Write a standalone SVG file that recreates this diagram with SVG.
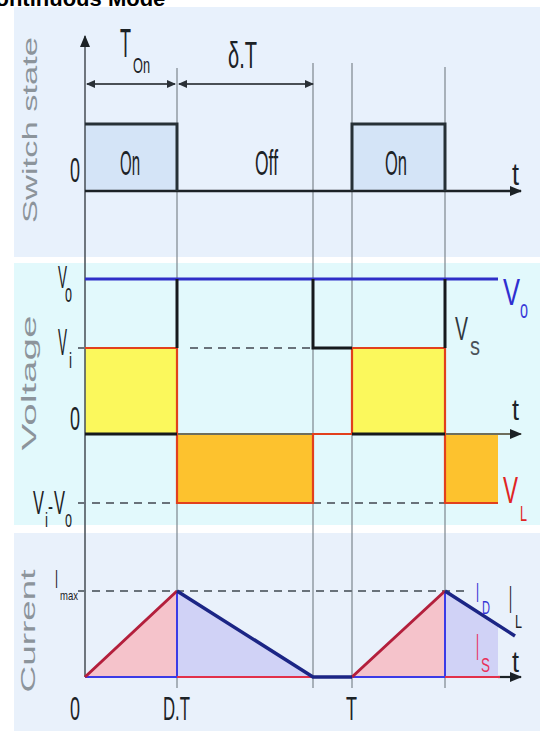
<svg xmlns="http://www.w3.org/2000/svg" width="540" height="731" viewBox="0 0 540 731">
<defs>
<style>
text{font-family:"Liberation Sans",Arial,sans-serif}
.k{fill:#1c2226}
.side{fill:#8c949b}
.g{stroke:#7d868e;stroke-width:1.2;fill:none}
.d{stroke:#69727a;stroke-width:2;stroke-dasharray:8 6;fill:none}
</style>
<marker id="ah" markerWidth="12" markerHeight="10" refX="11" refY="5" orient="auto" markerUnits="userSpaceOnUse"><path d="M0,0 L12,5 L0,10 z" fill="#1c2226"/></marker>
<marker id="dh" markerWidth="9" markerHeight="8" refX="8" refY="4" orient="auto-start-reverse" markerUnits="userSpaceOnUse"><path d="M0,0 L9,4 L0,8 z" fill="#2a3036"/></marker>
</defs>
<rect width="540" height="731" fill="#ffffff"/>
<text x="-51" y="6" font-family="Liberation Serif" font-weight="bold" font-size="22" fill="#000">Discontinuous Mode</text>

<g id="panels">
<rect x="14" y="7" width="526" height="250" fill="#e8f1fc"/>
<rect x="14" y="263" width="526" height="262" fill="#e2f9fc"/>
<rect x="14" y="533" width="526" height="198" fill="#e9f1fb"/>
</g>

<g id="fills">
<rect x="85" y="124" width="92" height="67" fill="#d4e4f7"/>
<rect x="352" y="124" width="93" height="67" fill="#d4e4f7"/>
<rect x="85" y="348" width="92" height="86" fill="#fbf85c"/>
<rect x="352" y="348" width="93" height="86" fill="#fbf85c"/>
<rect x="177" y="434" width="136" height="69" fill="#fdc22e"/>
<rect x="445" y="434" width="53" height="69" fill="#fdc22e"/>
<polygon points="85,677 177,591 177,677" fill="#f5c3cb"/>
<polygon points="177,591 313,677 177,677" fill="#d0d2f6"/>
<polygon points="352,677 445,591 445,677" fill="#f5c3cb"/>
<polygon points="445,591 498,624.5 498,677 445,677" fill="#d0d2f6"/>
</g>

<g id="connectors">
<path class="g" d="M177,68 V688 M313,63 V688 M352,63 V688 M445,67 V688"/>
<line x1="85" y1="677" x2="85" y2="36" stroke="#4f575e" stroke-width="1.6" marker-end="url(#ah)"/>
<line x1="87" y1="84" x2="175" y2="84" stroke="#4a5056" stroke-width="2" marker-start="url(#dh)" marker-end="url(#dh)"/>
<line x1="179" y1="84" x2="313" y2="84" stroke="#4a5056" stroke-width="2" marker-start="url(#dh)" marker-end="url(#dh)"/>
<path class="d" d="M78,348 H84 M190,348 H313 M78,503 H177 M313,503 H445 M78,591 H470"/>
</g>

<g id="switch-state">
<text transform="translate(37,130) rotate(-90) scale(1,0.6)" text-anchor="middle" font-size="35" textLength="186" lengthAdjust="spacingAndGlyphs" class="side">Switch state</text>
<line x1="85" y1="191" x2="521" y2="191" stroke="#1c2226" stroke-width="2.5" marker-end="url(#ah)"/>
<path d="M85,124 H177 V191 M352,191 V124 H445 V191" stroke="#263036" stroke-width="3" fill="none"/>
<text x="120" y="57" font-size="40" textLength="11" lengthAdjust="spacingAndGlyphs" class="k">T</text>
<text x="133" y="73" font-size="22" textLength="17" lengthAdjust="spacingAndGlyphs" class="k">On</text>
<text x="228" y="68" font-size="36" textLength="29" lengthAdjust="spacingAndGlyphs" class="k">δ.T</text>
<text x="70" y="182" font-size="35" textLength="10" lengthAdjust="spacingAndGlyphs" class="k">0</text>
<text x="120" y="175" font-size="35" textLength="20" lengthAdjust="spacingAndGlyphs" class="k">On</text>
<text x="255" y="175" font-size="35" textLength="23" lengthAdjust="spacingAndGlyphs" class="k">Off</text>
<text x="385" y="175" font-size="35" textLength="22" lengthAdjust="spacingAndGlyphs" class="k">On</text>
<text x="512" y="185" font-size="32" textLength="7" lengthAdjust="spacingAndGlyphs" class="k">t</text>
</g>

<g id="voltage">
<text transform="translate(36,383) rotate(-90) scale(1,0.6)" text-anchor="middle" font-size="35" textLength="135" lengthAdjust="spacingAndGlyphs" class="side">Voltage</text>
<line x1="85" y1="434" x2="521" y2="434" stroke="#6e6e5c" stroke-width="2" marker-end="url(#ah)"/>
<line x1="85" y1="279" x2="498" y2="279" stroke="#2f2fc8" stroke-width="3"/>
<path d="M85,348 H177 V503 H313 V434 H352 V348 H445 V503 H498" stroke="#e2401c" stroke-width="2.2" fill="none"/>
<path d="M85,434 H177 M177,348 V279 M313,279 V348 H352 M352,434 H445 M445,348 V279" stroke="#15191c" stroke-width="3" fill="none"/>
<text x="58" y="288" font-size="32" textLength="9" lengthAdjust="spacingAndGlyphs" class="k">V</text>
<text x="65" y="302" font-size="26" textLength="7" lengthAdjust="spacingAndGlyphs" class="k">o</text>
<text x="58" y="355" font-size="36" textLength="9" lengthAdjust="spacingAndGlyphs" class="k">V</text>
<text x="69" y="368" font-size="22" textLength="3" lengthAdjust="spacingAndGlyphs" class="k">i</text>
<text x="70" y="430" font-size="33" textLength="10" lengthAdjust="spacingAndGlyphs" class="k">0</text>
<text x="33" y="514" font-size="34" textLength="11" lengthAdjust="spacingAndGlyphs" class="k">V</text>
<text x="45" y="527" font-size="20" textLength="3" lengthAdjust="spacingAndGlyphs" class="k">i</text>
<text x="48" y="514" font-size="24" textLength="5" lengthAdjust="spacingAndGlyphs" class="k">-</text>
<text x="54" y="514" font-size="34" textLength="11" lengthAdjust="spacingAndGlyphs" class="k">V</text>
<text x="65" y="527" font-size="24" textLength="7" lengthAdjust="spacingAndGlyphs" class="k">o</text>
<text x="503" y="305" font-size="37" textLength="17" lengthAdjust="spacingAndGlyphs" fill="#2f2fd0">V</text>
<text x="520" y="318" font-size="26" textLength="8" lengthAdjust="spacingAndGlyphs" fill="#3a3ad8">o</text>
<text x="455" y="340" font-size="34" textLength="13" lengthAdjust="spacingAndGlyphs" fill="#30383e">V</text>
<text x="470" y="355" font-size="26" textLength="10" lengthAdjust="spacingAndGlyphs" fill="#4a5258">s</text>
<text x="512" y="420" font-size="30" textLength="7" lengthAdjust="spacingAndGlyphs" class="k">t</text>
<text x="503" y="503" font-size="36" textLength="15" lengthAdjust="spacingAndGlyphs" fill="#e02424">V</text>
<text x="520" y="521" font-size="22" textLength="7" lengthAdjust="spacingAndGlyphs" fill="#e02424">L</text>
</g>

<g id="current">
<text transform="translate(35,631) rotate(-90) scale(1,0.6)" text-anchor="middle" font-size="35" textLength="123" lengthAdjust="spacingAndGlyphs" class="side">Current</text>
<line x1="498" y1="677" x2="521" y2="677" stroke="#1c2226" stroke-width="2.2" marker-end="url(#ah)"/>
<path d="M85,677 H177 M352,677 H445 M177,591 V677 M445,591 V677" stroke="#3b3be6" stroke-width="2" fill="none"/>
<path d="M177,677 H313 M445,677 H500" stroke="#e2304a" stroke-width="2.2" fill="none"/>
<path d="M85,677 L177,591 M352,677 L445,591" stroke="#b31f3c" stroke-width="3" fill="none"/>
<path d="M177,591 L313,677 H352 M445,591 L515,636" stroke="#1b2585" stroke-width="3.5" fill="none"/>
<text x="55" y="588" font-size="25" textLength="3" lengthAdjust="spacingAndGlyphs" class="k">I</text>
<text x="60" y="600" font-size="13" textLength="18" lengthAdjust="spacingAndGlyphs" class="k">max</text>
<text x="476" y="602" font-size="27" textLength="3" lengthAdjust="spacingAndGlyphs" fill="#3434d4">I</text>
<text x="482" y="614" font-size="19" textLength="8" lengthAdjust="spacingAndGlyphs" fill="#3434d4">D</text>
<text x="509" y="613" font-size="38" textLength="3" lengthAdjust="spacingAndGlyphs" class="k">I</text>
<text x="515" y="628" font-size="19" textLength="7" lengthAdjust="spacingAndGlyphs" class="k">L</text>
<text x="476" y="660" font-size="37" textLength="3" lengthAdjust="spacingAndGlyphs" fill="#e8305a">I</text>
<text x="481" y="672" font-size="20" textLength="9" lengthAdjust="spacingAndGlyphs" fill="#e8305a">S</text>
<text x="512" y="672" font-size="30" textLength="7" lengthAdjust="spacingAndGlyphs" class="k">t</text>
<text x="70" y="720" font-size="33" textLength="10" lengthAdjust="spacingAndGlyphs" class="k">0</text>
<text x="163" y="720" font-size="33" textLength="27" lengthAdjust="spacingAndGlyphs" class="k">D.T</text>
<text x="346" y="720" font-size="33" textLength="11" lengthAdjust="spacingAndGlyphs" class="k">T</text>
</g>
</svg>
